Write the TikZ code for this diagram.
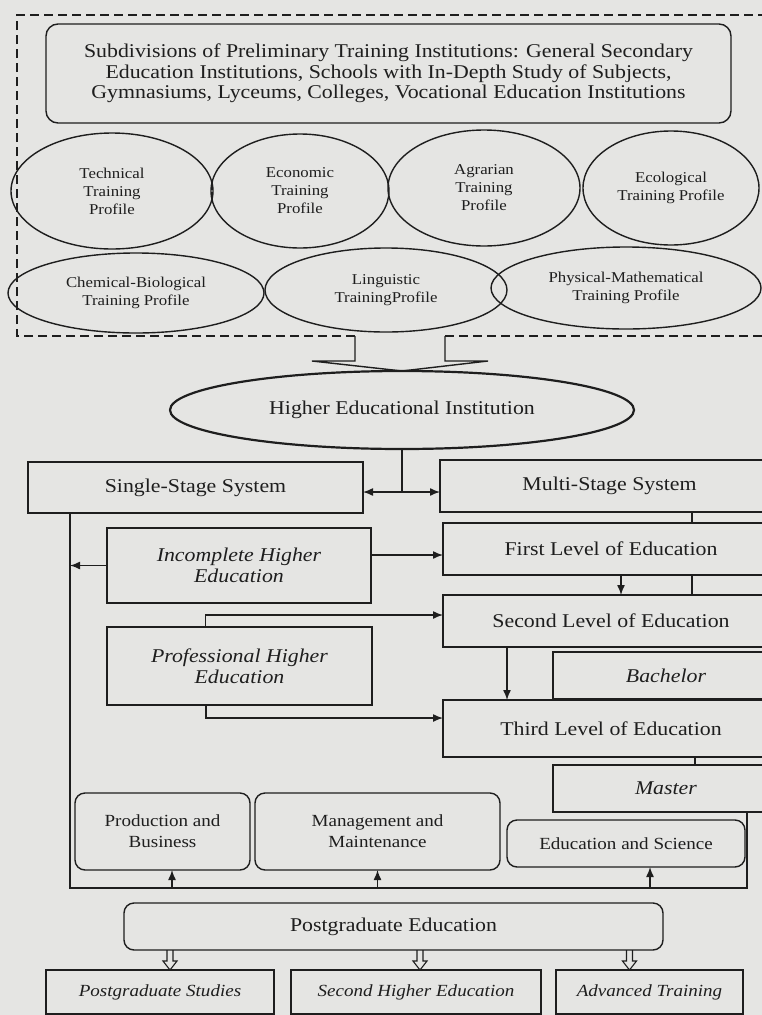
\documentclass[tikz,border=0pt]{standalone}
\usepackage{fontspec}
\setmainfont{Liberation Serif}[FakeStretch=1.12]
\usetikzlibrary{arrows.meta,shapes.geometric,calc}
\definecolor{bg}{RGB}{229,229,227}
\definecolor{ink}{RGB}{30,30,30}
\begin{document}
\begin{tikzpicture}[x=1pt,y=-1pt,color=ink,line width=1.4pt,
  sq/.style={draw, rectangle, inner sep=0pt, outer sep=0pt, align=center, font=\fontsize{19.5}{21}\selectfont},
  rbox/.style={sq, rounded corners=10pt, font=\fontsize{17}{21}\selectfont},
  prof/.style={draw, ellipse, inner sep=0pt, outer sep=0pt, align=center, font=\fontsize{15}{18}\selectfont},
  arr/.style={-{Latex[length=10pt,width=8pt]}},
  darr/.style={{Latex[length=10pt,width=8pt]}-{Latex[length=10pt,width=8pt]}},
  dashframe/.style={dash pattern=on 9pt off 5pt, line width=1.5pt}
]
\useasboundingbox (0,0) rectangle (762,1015);
\fill[bg] (0,0) rectangle (762,1015);
\clip (0,0) rectangle (762,1015);

% top group
\node[rbox, rounded corners=12pt, font=\fontsize{19.5}{20.5}\selectfont, minimum width=685pt, minimum height=99pt] (sub) at (388.5,73.5)
 {Subdivisions of Preliminary Training Institutions: General Secondary\\Education Institutions, Schools with In-Depth Study of Subjects,\\Gymnasiums, Lyceums, Colleges, Vocational Education Institutions};

\node[prof, minimum width=202pt, minimum height=116pt] (tech) at (112,191) {Technical\\Training\\Profile};
\node[prof, minimum width=178pt, minimum height=114pt] (econ) at (300,191) {Economic\\Training\\Profile};
\node[prof, minimum width=192pt, minimum height=116pt] (agra) at (484,188) {Agrarian\\Training\\Profile};
\node[prof, minimum width=176pt, minimum height=114pt] (ecol) at (671,188) {Ecological\\Training Profile};
\node[prof, minimum width=256pt, minimum height=80pt] (chem) at (136,293) {Chemical-Biological\\Training Profile};
\node[prof, minimum width=242pt, minimum height=84pt] (ling) at (386,290) {Linguistic\\TrainingProfile};
\node[prof, minimum width=270pt, minimum height=82pt] (phys) at (626,288) {Physical-Mathematical\\Training Profile};

\coordinate (fl) at (17,336);
\draw[dashframe] (355,336) -- (fl) -- (17,15) -- (780,15);
\draw[dashframe] (445,336) -- (780,336);

% higher educational institution
\node[prof, line width=2.2pt, font=\fontsize{19.5}{21}\selectfont, minimum width=464pt, minimum height=78pt] (hei) at (402,410) {Higher Educational Institution};
\draw ($(hei.north)+(-47,-35)$) -- ($(hei.north)+(-47,-10)$) -- ($(hei.north)+(-90,-10)$) -- (hei.north)
  -- ($(hei.north)+(86,-10)$) -- ($(hei.north)+(43,-10)$) -- ($(hei.north)+(43,-35)$);

% systems
\node[sq, minimum width=335pt, minimum height=51pt] (single) at (195.5,487.5) {Single-Stage System};
\node[sq, minimum width=339pt, minimum height=52pt] (multi) at (609.5,486) {Multi-Stage System};
\node[sq, minimum width=336pt, minimum height=52pt] (first) at (611,549) {First Level of Education};
\node[sq, minimum width=336pt, minimum height=52pt] (second) at (611,621) {Second Level of Education};
\node[sq, minimum width=336pt, minimum height=57pt] (third) at (611,728.5) {Third Level of Education};
\node[sq, minimum width=226pt, minimum height=47pt] (bach) at (666,675.5) {\textit{Bachelor}};
\node[sq, minimum width=226pt, minimum height=47pt] (master) at (666,788.5) {\textit{Master}};
\node[sq, minimum width=264pt, minimum height=75pt] (inc) at (239,565.5) {\textit{Incomplete Higher}\\\textit{Education}};
\node[sq, minimum width=265pt, minimum height=78pt] (prof) at (239.5,666) {\textit{Professional Higher}\\\textit{Education}};

% stubs on the right edge
\draw (692,512) rectangle (790,523);
\draw (692,575) rectangle (790,595);
\draw (695,757) rectangle (790,765);

% careers
\node[rbox, minimum width=175pt, minimum height=77pt] (prod) at (162.5,831.5) {Production and\\Business};
\node[rbox, minimum width=245pt, minimum height=77pt] (mgmt) at (377.5,831.5) {Management and\\Maintenance};
\node[rbox, minimum width=238pt, minimum height=47pt] (edu) at (626,843.5) {Education and Science};

\node[rbox, font=\fontsize{19.5}{21}\selectfont, minimum width=539pt, minimum height=47pt] (pg) at (393.5,926.5) {Postgraduate Education};

\node[sq, font=\fontsize{17}{21}\selectfont, minimum width=228pt, minimum height=44pt] (pgs) at (160,992) {\textit{Postgraduate Studies}};
\node[sq, font=\fontsize{17}{21}\selectfont, minimum width=250pt, minimum height=44pt] (she) at (416,992) {\textit{Second Higher Education}};
\node[sq, font=\fontsize{17}{21}\selectfont, minimum width=187pt, minimum height=44pt] (adv) at (649.5,992) {\textit{Advanced Training}};

% connectors
\draw (hei.south) -- ([yshift=-4.5pt]single.east -| hei.south);
\draw[darr] ([yshift=-4.5pt]single.east) -- ([yshift=-4.5pt]single.east -| multi.west);
\draw[arr] ([yshift=10.5pt]inc.east) -- ([yshift=10.5pt]inc.east -| first.west);
\draw[arr] ([xshift=10pt]first.south) -- ([xshift=10pt]first.south |- second.north);
\draw[arr] ([xshift=-104pt]second.south) -- ([xshift=-104pt]second.south |- third.north);
\draw[arr] ([xshift=-34pt]prof.north) |- ([yshift=6pt]second.west);
\draw[arr] ([xshift=-33.5pt]prof.south) |- ([yshift=10.5pt]third.west);

\coordinate (fbL) at (70,888);
\coordinate (fbR) at (747,888);
\draw (single.south -| fbL) -- (fbL) -- (fbR) -- (master.south -| fbR);
\draw[arr] (inc.west) -- (inc.west -| fbL);
\draw[arr] ([xshift=9.5pt]prod.south |- fbL) -- ([xshift=9.5pt]prod.south);
\draw[arr] (mgmt.south |- fbL) -- (mgmt.south);
\draw[arr] ([xshift=24pt]edu.south |- fbL) -- ([xshift=24pt]edu.south);

% open arrows from postgraduate education
\foreach \b/\dx in {pgs/10, she/4, adv/-20} {
  \draw[line width=1.1pt] ($(\b.north)+(\dx-3,-20)$) -- ($(\b.north)+(\dx-3,-9)$) -- ($(\b.north)+(\dx-7,-9)$)
    -- ($(\b.north)+(\dx,0)$) -- ($(\b.north)+(\dx+7,-9)$) -- ($(\b.north)+(\dx+3,-9)$) -- ($(\b.north)+(\dx+3,-20)$);
}
\end{tikzpicture}
\end{document}
